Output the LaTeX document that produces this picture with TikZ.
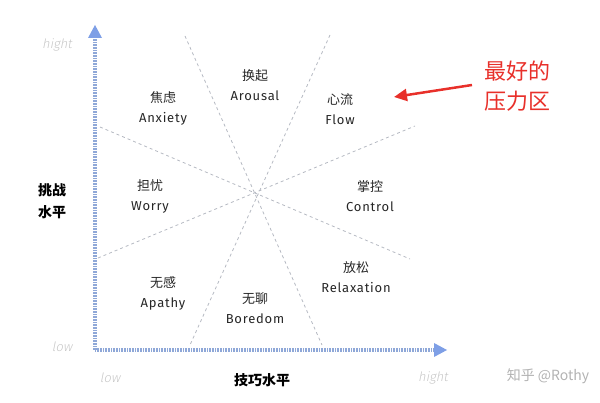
\documentclass[tikz,border=0pt]{standalone}
\usepackage{fontspec}
\setmainfont{Noto Sans CJK SC}
\newfontfamily\latinfont[LetterSpace=6]{Fira Sans}
\newfontfamily\tickfont[FakeSlant=0.2]{Fira Sans Light}
\usetikzlibrary{positioning,arrows.meta}
\definecolor{axisblue}{HTML}{8FA8D8}
\definecolor{tipblue}{HTML}{7E9FE6}
\definecolor{zonegrey}{HTML}{B5B9C2}
\definecolor{hotred}{HTML}{E8302A}

\begin{document}
\begin{tikzpicture}[x=1pt,y=-1pt]
	\tikzstyle{every node}+=[inner sep=0pt]
	\tikzstyle{zone}=[align=center,font=\fontsize{13}{20}\selectfont,text=black!85]
	\tikzstyle{axisline}=[axisblue,line width=3.5pt,dash pattern=on 0.8pt off 0.8pt]
	\tikzstyle{tick}=[text=black!22,font=\fontsize{13}{14}\selectfont\tickfont]
	\tikzstyle{divider}=[zonegrey,dashed,line width=0.8pt]
	\useasboundingbox (0,0) rectangle (600,403);
	% axes
	\coordinate (o) at (95,350);
	\coordinate (xend) at (436,350);
	\coordinate (yend) at (95,37);
	\draw [axisline] (o) -- (xend);
	\draw [axisline] (o) -- (yend);
	\fill [tipblue] (447,350) -- (434,343) -- (434,357) -- cycle;
	\fill [tipblue] (95,25) -- (88,38) -- (102,38) -- cycle;
	% dividing lines
	\coordinate (c) at (257,192);
	\draw [divider] (185,36) -- (322,345);
	\draw [divider] (330,35) -- (190,345);
	\draw [divider] (100,127) -- (410,259);
	\draw [divider] (98,258) -- (415,126);
	% zones
	\node [zone] (anxiety) at (163,108) {焦虑\\\latinfont Anxiety};
	\node [zone] (arousal) at (255,85) {换起\\\latinfont Arousal};
	\node [zone] (flow) at (340,109) {心流\\\latinfont Flow};
	\node [zone] (worry) at (150,196) {担忧\\\latinfont Worry};
	\node [zone] (control) at (370,196) {掌控\\\latinfont Control};
	\node [zone] (apathy) at (163,293) {无感\\\latinfont Apathy};
	\node [zone] (boredom) at (255,308) {无聊\\\latinfont Boredom};
	\node [zone] (relax) at (356,277) {放松\\\latinfont Relaxation};
	% axis labels
	\node [align=center,font=\fontsize{14}{22}\selectfont\bfseries] (ylabel) at (52,201) {挑战\\水平};
	\node [font=\fontsize{14}{16}\selectfont\bfseries] (xlabel) at (262,380) {技巧水平};
	\node [tick] (yhigh) at (57,45) {hight};
	\node [tick] (ylow) at (62,347) {low};
	\node [tick] (xlow) at (110,378) {low};
	\node [tick] (xhigh) at (433,378) {hight};
	% highlight
	\node [align=center,text=hotred,font=\fontsize{22}{30}\selectfont] (best) at (517,86) {最好的\\压力区};
	\coordinate (flowpt) at (394,97);
	\draw [hotred,line width=2.5pt,-{Triangle[length=13pt,width=12pt]}] (472,85) -- (flowpt);
	\node [text=black!30,font=\fontsize{14}{16}\selectfont] (mark) at (548,376) {知乎 @Rothy};
\end{tikzpicture}
\end{document}
